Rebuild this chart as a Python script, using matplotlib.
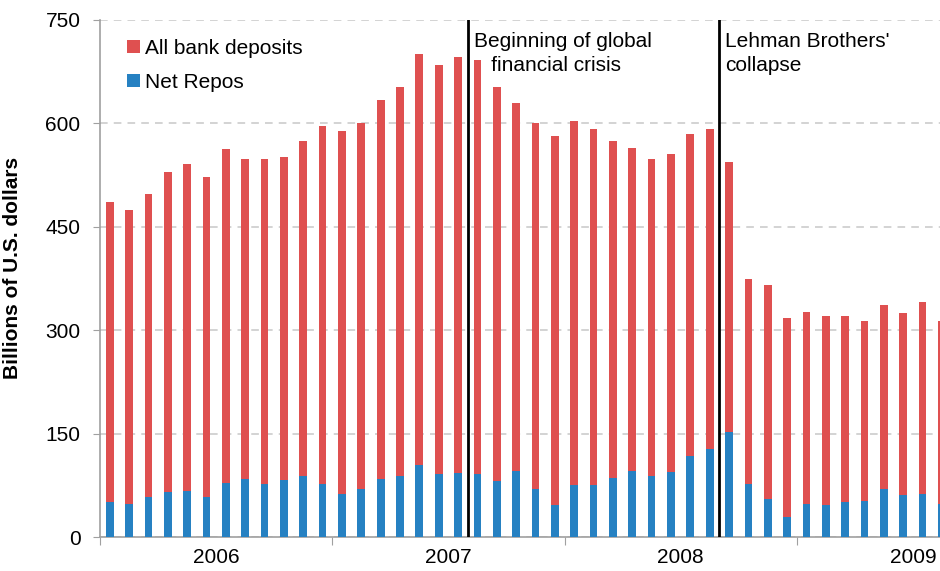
import matplotlib.pyplot as plt
import numpy as np

plt.rcParams["font.family"] = ["Liberation Sans", "DejaVu Sans"]

# monthly observations, Jan 2006 .. Aug 2009 (last one cut by the frame)
months = [f"{y}-{m:02d}" for y in (2006, 2007, 2008, 2009) for m in range(1, 13)][:44]

all_deposits = [486, 474, 498, 529, 541, 522, 563, 548, 548, 551, 574, 596,
                589, 601, 634, 653, 701, 684, 696, 692, 653, 630, 600, 582,
                603, 592, 575, 565, 549, 556, 585, 592, 544, 375, 366, 318,
                327, 320, 320, 313, 337, 325, 341, 313]
net_repos = [51, 48, 58, 65, 67, 58, 79, 84, 77, 82, 89, 77,
             63, 70, 84, 89, 105, 91, 93, 91, 81, 96, 70, 46,
             76, 76, 86, 96, 89, 94, 118, 127, 153, 77, 55, 29,
             48, 46, 51, 52, 70, 61, 63, 48]

years = ["2006", "2007", "2008", "2009"]
events = [("2007-07", "2007-08", "Beginning of global\n   financial crisis"),
          ("2008-08", "2008-09", "Lehman Brothers'\ncollapse")]

red = "#DF5050"
blue = "#2681C2"
grey = "#A0A0A0"
fs = 15

fig = plt.figure(figsize=(9.4, 5.71), dpi=100)
ax = fig.add_axes([0.1064, 0.0595, 0.8936, 0.9055])

x = np.arange(len(months))
ax.bar(x, all_deposits, width=0.4, color=red, label="All bank deposits", zorder=2)
ax.bar(x, net_repos, width=0.4, color=blue, label="Net Repos", zorder=3)

ax.set_xlim(-0.5, 42.9)
ax.set_ylim(0, 750)
ax.set_yticks(np.arange(0, 751, 150))
ax.yaxis.grid(True, linestyle=(0, (5, 4)), color="#C8C8C8", linewidth=1.1, zorder=0)
ax.set_axisbelow(True)

# year boundaries as ticks, year names centred between them
ax.set_xticks([-0.5, 11.5, 23.5, 35.5])
ax.set_xticklabels([])
for i, yr in enumerate(years):
    ax.text(5.5 + 12 * i, -0.022, yr, transform=ax.get_xaxis_transform(),
            ha="center", va="top", fontsize=fs)

ax.tick_params(axis="x", direction="out", length=6, color=grey)
ax.tick_params(axis="y", direction="out", length=5, color=grey, labelsize=fs, pad=9)
for s in ("top", "right"):
    ax.spines[s].set_visible(False)
for s in ("left", "bottom"):
    ax.spines[s].set_color(grey)
    ax.spines[s].set_linewidth(1.2)

for before, after, label in events:
    xv = (months.index(before) + months.index(after)) / 2
    ax.axvline(xv, color="black", linewidth=2, zorder=4)
    ax.text(xv + 0.3, 732, label, ha="left", va="top", fontsize=fs, linespacing=1.3)

ax.set_ylabel("Billions of U.S. dollars", fontsize=fs, fontweight="bold")
ax.yaxis.set_label_coords(-0.093, 0.52)

ax.legend(loc="upper left", bbox_to_anchor=(0.01, 1.0), frameon=False, fontsize=fs,
          handlelength=0.6, handleheight=0.6, handletextpad=0.25, labelspacing=0.72)

fig.savefig("out.png", dpi=100)
